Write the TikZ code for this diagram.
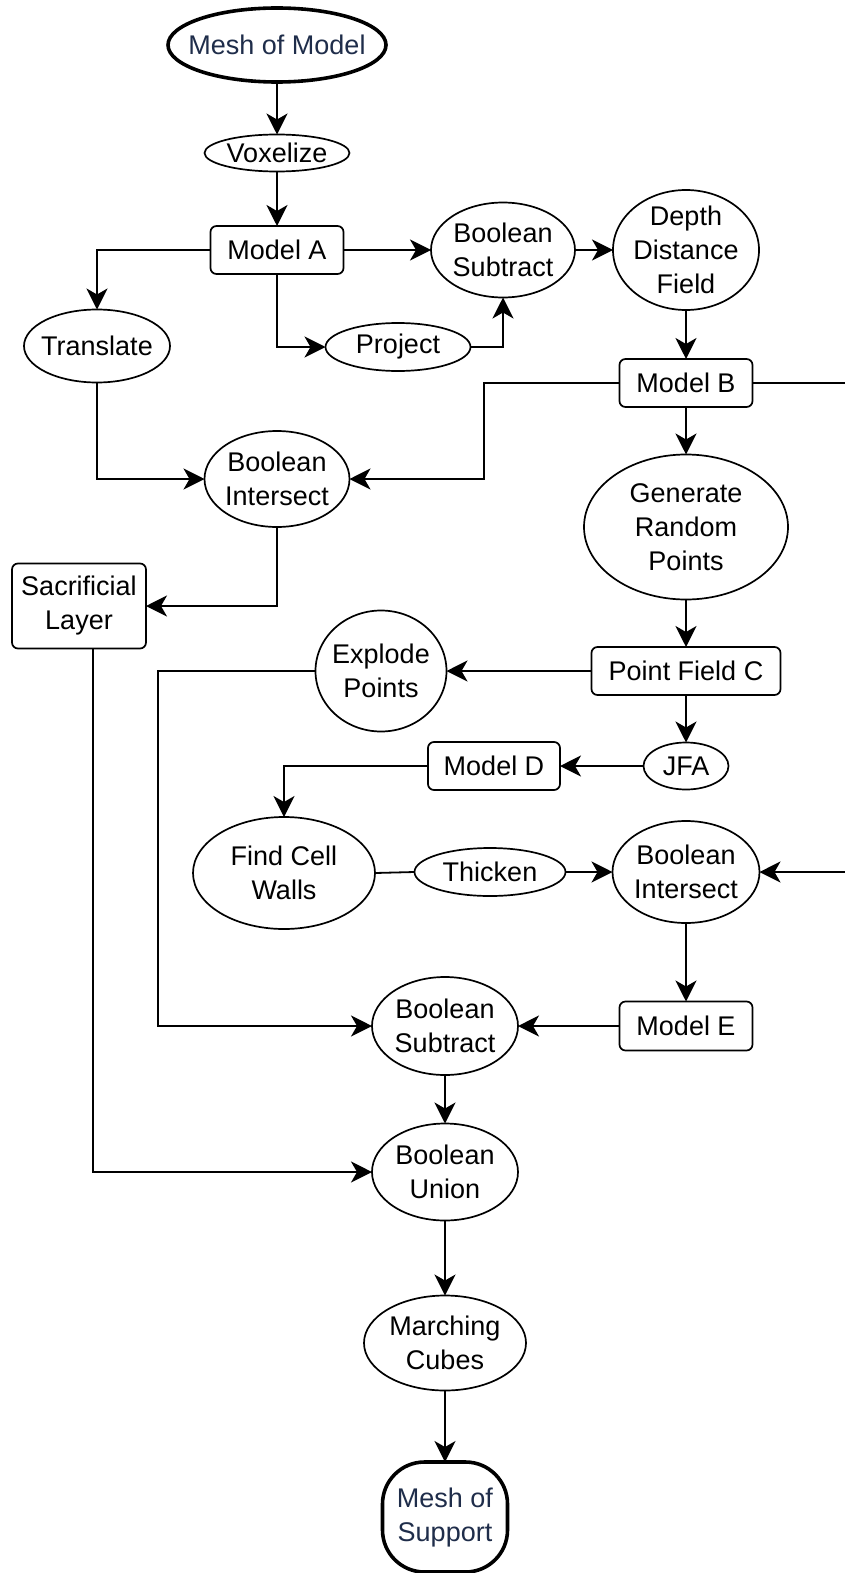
\documentclass[tikz,border=0pt]{standalone}
\usepackage{fontspec}
\setmainfont{Liberation Sans}
\usetikzlibrary{shapes.geometric,arrows.meta}
\definecolor{meshtxt}{HTML}{1F2D4A}
\tikzset{
  base/.style={draw=black, line width=1.7pt, inner sep=0pt, outer sep=0pt, fill=white},
  el/.style={base, ellipse},
  bx/.style={base, rectangle, rounded corners=6pt},
  thickel/.style={el, line width=3.6pt},
  thickbx/.style={base, rectangle, rounded corners=42pt, line width=3.6pt},
  lb/.style={font=\fontsize{27pt}{34pt}\selectfont, align=center, inner sep=0pt},
  mlb/.style={lb, text=meshtxt},
  conn/.style={line width=1.8pt, -{Stealth[length=21pt,width=21pt,inset=6pt]}},
  plain/.style={line width=1.8pt}
}
\begin{document}
\begin{tikzpicture}[x=1pt,y=-1pt]
\useasboundingbox (0,0) rectangle (845,1573);
\clip (0,0) rectangle (845,1573);
\fill[white] (0,0) rectangle (845,1573);

% nodes
\node[thickel, minimum width=218pt, minimum height=74pt, label={[mlb]center:Mesh of Model}] (mom) at (277,45) {};
\node[el, minimum width=145pt, minimum height=37pt, label={[lb]center:Voxelize}] (vox) at (277,153) {};
\node[bx, minimum width=133pt, minimum height=48pt, label={[lb]center:Model A}] (ma) at (277,250) {};
\node[el, minimum width=144pt, minimum height=95pt, label={[lb]center:Boolean\\Subtract}] (bs1) at (503,250) {};
\node[el, minimum width=146pt, minimum height=120pt, label={[lb]center:Depth\\Distance\\Field}] (ddf) at (686,250) {};
\node[el, minimum width=146pt, minimum height=73pt, label={[lb]center:Translate}] (tr) at (97,346) {};
\node[el, minimum width=145pt, minimum height=48pt, label={[lb]center:Project}] (pj) at (398,347) {};
\node[bx, minimum width=133pt, minimum height=48pt, label={[lb]center:Model B}] (mb) at (686,383) {};
\node[el, minimum width=145pt, minimum height=96pt, label={[lb]center:Boolean\\Intersect}] (bi1) at (277,479) {};
\node[el, minimum width=204pt, minimum height=145pt, label={[lb]center:Generate\\Random\\Points}] (grp) at (686,527) {};
\node[bx, minimum width=134pt, minimum height=85pt, label={[lb]center:Sacrificial\\Layer}] (sl) at (79,606) {};
\node[el, minimum width=131pt, minimum height=121pt, label={[lb]center:Explode\\Points}] (ex) at (381,671) {};
\node[bx, minimum width=189pt, minimum height=48pt, label={[lb]center:Point Field C}] (pfc) at (686,671) {};
\node[el, minimum width=85pt, minimum height=47pt, label={[lb]center:JFA}] (jfa) at (686,766) {};
\node[bx, minimum width=132pt, minimum height=48pt, label={[lb]center:Model D}] (md) at (494,766) {};
\node[el, minimum width=182pt, minimum height=112pt, label={[lb]center:Find Cell\\Walls}] (fcw) at (284,873) {};
\node[el, minimum width=151pt, minimum height=48pt, label={[lb]center:Thicken}] (th) at (490,872) {};
\node[el, minimum width=147pt, minimum height=102pt, label={[lb]center:Boolean\\Intersect}] (bi2) at (686,872) {};
\node[bx, minimum width=133pt, minimum height=49pt, label={[lb]center:Model E}] (me) at (686,1026) {};
\node[el, minimum width=146pt, minimum height=98pt, label={[lb]center:Boolean\\Subtract}] (bs2) at (445,1026) {};
\node[el, minimum width=146pt, minimum height=97pt, label={[lb]center:Boolean\\Union}] (bu) at (445,1172) {};
\node[el, minimum width=162pt, minimum height=95pt, label={[lb]center:Marching\\Cubes}] (mc) at (445,1343) {};
\node[thickbx, minimum width=125pt, minimum height=110pt, label={[mlb]center:Mesh of\\Support}] (mos) at (445,1517) {};

% helper coordinates
\coordinate (mbl) at (484,383);
\coordinate (mbr) at (850,383);
\coordinate (exl) at (158,671);

% connectors
\draw[conn] (mom) -- (vox);
\draw[conn] (vox) -- (ma);
\draw[conn] (ma.east) -- (bs1.west);
\draw[conn] (ma.west) -| (tr.north);
\draw[conn] (ma.south) |- (pj.west);
\draw[conn] (pj.east) -| (bs1.south);
\draw[conn] (bs1.east) -- (ddf.west);
\draw[conn] (ddf.south) -- (mb.north);
\draw[conn] (mb.west) -- (mbl) |- (bi1.east);
\draw[conn] (mb.east) -- (mbr) |- (bi2.east);
\draw[conn] (mb.south) -- (grp.north);
\draw[conn] (tr.south) |- (bi1.west);
\draw[conn] (bi1.south) |- (sl.east);
\draw[conn] (grp.south) -- (pfc.north);
\draw[conn] (pfc.west) -- (ex.east);
\draw[conn] (ex.west) -- (exl) |- (bs2.west);
\draw[conn] (pfc.south) -- (jfa.north);
\draw[conn] (jfa.west) -- (md.east);
\draw[conn] (md.west) -| (fcw.north);
\draw[plain] (fcw.east) -- (th.west);
\draw[conn] (th.east) -- (bi2.west);
\draw[conn] (bi2.south) -- (me.north);
\draw[conn] (me.west) -- (bs2.east);
\draw[conn] ([xshift=14pt]sl.south) |- (bu.west);
\draw[conn] (bs2.south) -- (bu.north);
\draw[conn] (bu.south) -- (mc.north);
\draw[conn] (mc.south) -- (mos.north);
\end{tikzpicture}
\end{document}
